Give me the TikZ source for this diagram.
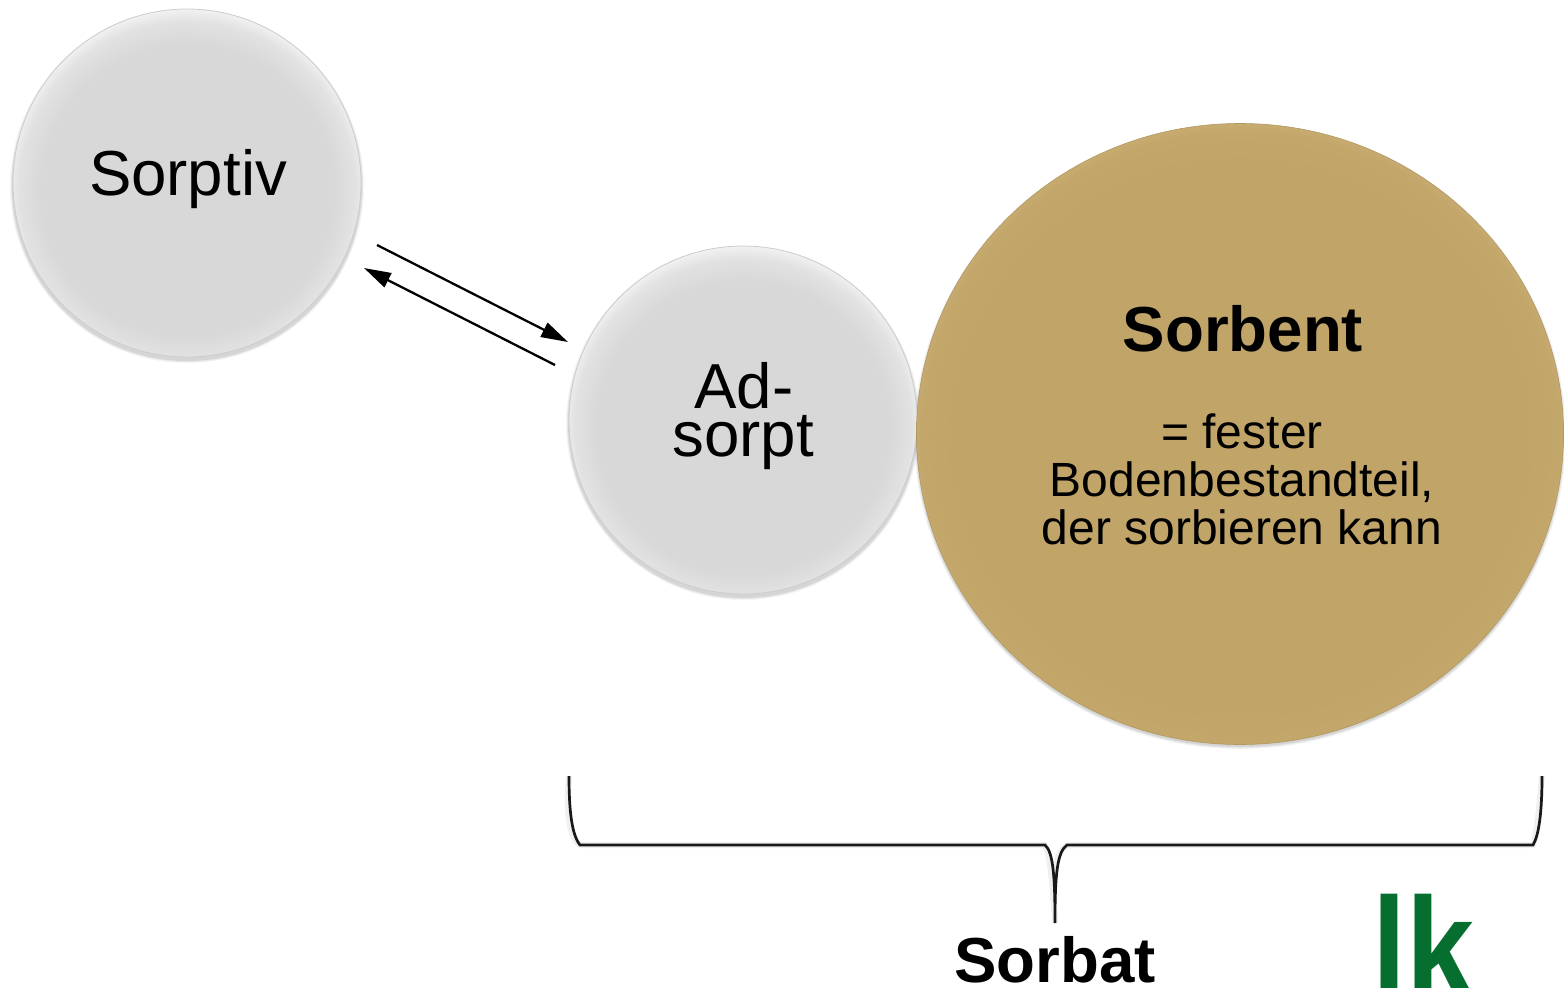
\documentclass[tikz,border=0pt]{standalone}
\usepackage{fontspec}
\setmainfont{Liberation Sans}
\usetikzlibrary{arrows.meta,shapes.geometric}
\definecolor{gdisc}{HTML}{D8D8D8}
\definecolor{gmid}{HTML}{E2E2E2}
\definecolor{gedge}{HTML}{FAFAFA}
\definecolor{tdisc}{HTML}{C0A468}
\definecolor{tmid}{HTML}{C2A66A}
\definecolor{tedge}{HTML}{C9AD72}
\definecolor{lkgreen}{HTML}{066F30}
\pgfdeclareradialshading{bevelgray}{\pgfpoint{0bp}{-1.8bp}}{color(0bp)=(gdisc); color(21bp)=(gdisc); color(24.2bp)=(gmid); color(26.8bp)=(gedge); color(50bp)=(gedge)}
\pgfdeclareradialshading{beveltan}{\pgfpoint{0bp}{-.5bp}}{color(0bp)=(tdisc); color(22bp)=(tdisc); color(24.6bp)=(tmid); color(25.5bp)=(tedge); color(50bp)=(tedge)}
\tikzset{
  ballgray/.style={circle,minimum size=174pt,inner sep=0pt,outer sep=0pt,shading=bevelgray,draw=black!20,line width=.4pt},
  balltan/.style={ellipse,minimum width=323.5pt,minimum height=310.5pt,inner sep=0pt,outer sep=0pt,shading=beveltan,draw=tdisc!92!black,line width=.3pt},
  bigtxt/.style={anchor=base,font=\fontsize{31.8pt}{31.8pt}\selectfont,inner sep=0pt},
  boldtxt/.style={anchor=base,font=\fontsize{31.8pt}{31.8pt}\selectfont\bfseries,inner sep=0pt},
  smalltxt/.style={anchor=base,font=\fontsize{24pt}{24pt}\selectfont,inner sep=0pt},
  flow/.style={draw=black,line width=1.15pt,-{Triangle[length=13.5pt,width=7.8pt]},shorten >=0pt},
  bracestroke/.style={draw=black!90,line width=1.35pt},
  braceshadow/.style={draw=black,opacity=.06,line width=3pt}
}
\begin{document}
\begin{tikzpicture}[x=.5pt,y=-.5pt]
\useasboundingbox (0,0) rectangle (1564,987);
% soft shadows
\foreach \d/\o in {3/.04,2/.06,1/.08}{
  \fill[black,opacity=\o] (187,{183+3}) circle ({(174+\d)*.5pt});
  \fill[black,opacity=\o] (743,{420+3}) circle ({(174+\d)*.5pt});
  \fill[black,opacity=\o] (1240,{434+2}) ellipse [x radius={(323+\d)*.5pt}, y radius={(310+\d)*.5pt}];
}
% discs
\node[ballgray] (sorptiv) at (187,183) {};
\node[ballgray] (adsorpt) at (743,420) {};
\node[balltan] (sorbent) at (1240,434) {};
% labels
\node[bigtxt] (tsorptiv) at (188,195) {Sorptiv};
\node[bigtxt] (tad) at (744,408) {Ad-};
\node[bigtxt] (tsorpt) at (743,456) {sorpt};
\node[boldtxt] (tsorbent) at (1243,351) {Sorbent};
\node[smalltxt] (tl1) at (1242,448) {= fester};
\node[smalltxt] (tl2) at (1242,496) {Bodenbestandteil,};
\node[smalltxt] (tl3) at (1242,544) {der sorbieren kann};
\node[boldtxt] (tsorbat) at (1055,982) {Sorbat};
% equilibrium arrows
\coordinate (a1) at (377,245);
\coordinate (a2) at (568,342);
\coordinate (b1) at (555,365);
\coordinate (b2) at (364,268);
\draw[flow] (a1) -- (a2);
\draw[flow] (b1) -- (b2);
% brace
\coordinate (bl) at (569,776);
\coordinate (bla) at (580,845);
\coordinate (bm1) at (1045,845);
\coordinate (btip) at (1055,923);
\coordinate (bm2) at (1067,845);
\coordinate (bra) at (1533,845);
\coordinate (br) at (1542,776);
\draw[braceshadow,xshift=-1.5pt,yshift=-1pt] (bl) .. controls (569,812) and (572,835) .. (bla) -- (bm1) .. controls (1053,852) and (1055,875) .. (btip) .. controls (1055,875) and (1057,852) .. (bm2) -- (bra) .. controls (1539,835) and (1542,812) .. (br);
\draw[bracestroke] (bl) .. controls (569,812) and (572,835) .. (bla) -- (bm1) .. controls (1053,852) and (1055,875) .. (btip) .. controls (1055,875) and (1057,852) .. (bm2) -- (bra) .. controls (1539,835) and (1542,812) .. (br);
% logo
\node[anchor=base west,inner sep=0pt,text=lkgreen,font=\fontsize{72pt}{72pt}\selectfont\bfseries,xscale=.85] (logo) at (1372,998) {lk};
\end{tikzpicture}
\end{document}
